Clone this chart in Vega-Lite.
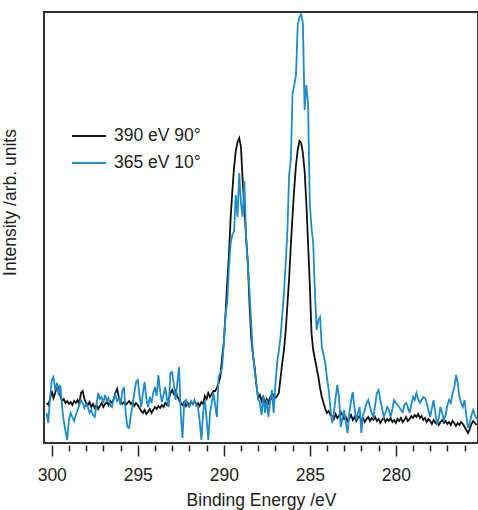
{
"$schema":"https://vega.github.io/schema/vega-lite/v6.json",
"width":434,"height":431,
"autosize":{"type":"none"},
"padding":{"left":44,"top":12,"right":0,"bottom":67},
"background":"white",
"config":{"view":{"stroke":"#333333","strokeWidth":2},"font":"Liberation Sans"},
"data":{"values":[
{"e":300.3,"k":40,"b":30},{"e":300.2,"k":38,"b":20},{"e":300.1,"k":44,"b":45},{"e":300.0,"k":52,"b":63},{"e":299.9,"k":45,"b":66},{"e":299.8,"k":50,"b":53},{"e":299.7,"k":58,"b":60},{"e":299.6,"k":55,"b":48},{"e":299.5,"k":47,"b":58},{"e":299.4,"k":42,"b":36},
{"e":299.3,"k":44,"b":22},{"e":299.2,"k":40,"b":12},{"e":299.1,"k":42,"b":3},{"e":299.0,"k":39,"b":23},{"e":298.9,"k":41,"b":30},{"e":298.8,"k":38,"b":26},{"e":298.7,"k":42,"b":22},{"e":298.6,"k":40,"b":28},{"e":298.5,"k":43,"b":33},{"e":298.4,"k":39,"b":38},
{"e":298.3,"k":50,"b":43},{"e":298.2,"k":52,"b":40},{"e":298.1,"k":44,"b":35},{"e":298.0,"k":40,"b":39},{"e":297.9,"k":38,"b":36},{"e":297.8,"k":41,"b":30},{"e":297.7,"k":36,"b":33},{"e":297.6,"k":39,"b":28},{"e":297.5,"k":35,"b":26},{"e":297.4,"k":38,"b":38},
{"e":297.3,"k":34,"b":50},{"e":297.2,"k":37,"b":44},{"e":297.1,"k":40,"b":46},{"e":297.0,"k":36,"b":40},{"e":296.9,"k":39,"b":48},{"e":296.8,"k":41,"b":42},{"e":296.7,"k":38,"b":45},{"e":296.6,"k":42,"b":38},{"e":296.5,"k":40,"b":36},{"e":296.4,"k":44,"b":44},
{"e":296.3,"k":50,"b":48},{"e":296.2,"k":54,"b":42},{"e":296.1,"k":46,"b":45},{"e":296.0,"k":42,"b":38},{"e":295.9,"k":39,"b":52},{"e":295.8,"k":41,"b":56},{"e":295.7,"k":38,"b":30},{"e":295.6,"k":40,"b":16},{"e":295.5,"k":42,"b":15},{"e":295.4,"k":39,"b":28},
{"e":295.3,"k":41,"b":38},{"e":295.2,"k":37,"b":50},{"e":295.1,"k":40,"b":61},{"e":295.0,"k":38,"b":63},{"e":294.9,"k":35,"b":48},{"e":294.8,"k":32,"b":36},{"e":294.7,"k":30,"b":50},{"e":294.6,"k":33,"b":61},{"e":294.5,"k":29,"b":44},{"e":294.4,"k":31,"b":36},
{"e":294.3,"k":34,"b":46},{"e":294.2,"k":30,"b":40},{"e":294.1,"k":33,"b":50},{"e":294.0,"k":36,"b":56},{"e":293.9,"k":34,"b":47},{"e":293.8,"k":37,"b":68},{"e":293.7,"k":35,"b":52},{"e":293.6,"k":38,"b":41},{"e":293.5,"k":36,"b":48},{"e":293.4,"k":40,"b":56},
{"e":293.3,"k":38,"b":44},{"e":293.2,"k":44,"b":36},{"e":293.1,"k":50,"b":70},{"e":293.0,"k":53,"b":71},{"e":292.9,"k":49,"b":58},{"e":292.8,"k":52,"b":43},{"e":292.7,"k":47,"b":60},{"e":292.6,"k":43,"b":76},{"e":292.5,"k":40,"b":30},{"e":292.4,"k":38,"b":5},
{"e":292.3,"k":41,"b":40},{"e":292.2,"k":37,"b":43},{"e":292.1,"k":40,"b":38},{"e":292.0,"k":38,"b":36},{"e":291.9,"k":41,"b":42},{"e":291.8,"k":39,"b":39},{"e":291.7,"k":42,"b":43},{"e":291.6,"k":38,"b":38},{"e":291.5,"k":40,"b":36},{"e":291.4,"k":37,"b":22},
{"e":291.3,"k":41,"b":3},{"e":291.2,"k":39,"b":30},{"e":291.1,"k":47,"b":43},{"e":291.0,"k":44,"b":25},{"e":290.9,"k":50,"b":3},{"e":290.8,"k":46,"b":30},{"e":290.7,"k":49,"b":40},{"e":290.6,"k":52,"b":50},{"e":290.5,"k":52,"b":38},{"e":290.4,"k":55,"b":26},
{"e":290.3,"k":60,"b":66},{"e":290.2,"k":66,"b":70},{"e":290.1,"k":85,"b":75},{"e":290.0,"k":100,"b":98},{"e":289.9,"k":128,"b":128},{"e":289.8,"k":160,"b":140},{"e":289.7,"k":188,"b":175},{"e":289.6,"k":225,"b":200},{"e":289.5,"k":252,"b":208},{"e":289.4,"k":276,"b":212},
{"e":289.3,"k":292,"b":248},{"e":289.2,"k":301,"b":226},{"e":289.1,"k":305,"b":270},{"e":289.0,"k":296,"b":240},{"e":288.9,"k":262,"b":226},{"e":288.8,"k":235,"b":262},{"e":288.7,"k":205,"b":205},{"e":288.6,"k":180,"b":178},{"e":288.5,"k":138,"b":150},{"e":288.4,"k":105,"b":118},
{"e":288.3,"k":88,"b":88},{"e":288.2,"k":75,"b":72},{"e":288.1,"k":58,"b":58},{"e":288.0,"k":45,"b":44},{"e":287.9,"k":48,"b":40},{"e":287.8,"k":42,"b":28},{"e":287.7,"k":46,"b":48},{"e":287.6,"k":40,"b":30},{"e":287.5,"k":44,"b":43},{"e":287.4,"k":40,"b":26},
{"e":287.3,"k":46,"b":42},{"e":287.2,"k":44,"b":53},{"e":287.1,"k":48,"b":30},{"e":287.0,"k":45,"b":58},{"e":286.9,"k":47,"b":80},{"e":286.8,"k":50,"b":92},{"e":286.7,"k":65,"b":106},{"e":286.6,"k":80,"b":128},{"e":286.5,"k":93,"b":150},{"e":286.4,"k":112,"b":180},
{"e":286.3,"k":138,"b":212},{"e":286.2,"k":165,"b":268},{"e":286.1,"k":198,"b":283},{"e":286.0,"k":228,"b":350},{"e":285.9,"k":255,"b":358},{"e":285.8,"k":278,"b":368},{"e":285.7,"k":293,"b":418},{"e":285.6,"k":302,"b":426},{"e":285.5,"k":300,"b":429},{"e":285.4,"k":290,"b":420},
{"e":285.3,"k":272,"b":333},{"e":285.2,"k":240,"b":358},{"e":285.1,"k":200,"b":340},{"e":285.0,"k":160,"b":240},{"e":284.9,"k":110,"b":215},{"e":284.8,"k":93,"b":200},{"e":284.7,"k":84,"b":150},{"e":284.6,"k":75,"b":113},{"e":284.5,"k":66,"b":123},{"e":284.4,"k":55,"b":126},
{"e":284.3,"k":46,"b":96},{"e":284.2,"k":40,"b":88},{"e":284.1,"k":34,"b":80},{"e":284.0,"k":30,"b":65},{"e":283.9,"k":32,"b":53},{"e":283.8,"k":28,"b":35},{"e":283.7,"k":27,"b":20},{"e":283.6,"k":24,"b":30},{"e":283.5,"k":29,"b":45},{"e":283.4,"k":25,"b":58},
{"e":283.3,"k":27,"b":46},{"e":283.2,"k":31,"b":16},{"e":283.1,"k":28,"b":25},{"e":283.0,"k":24,"b":33},{"e":282.9,"k":26,"b":20},{"e":282.8,"k":22,"b":10},{"e":282.7,"k":25,"b":30},{"e":282.6,"k":28,"b":42},{"e":282.5,"k":23,"b":51},{"e":282.4,"k":26,"b":35},
{"e":282.3,"k":22,"b":23},{"e":282.2,"k":25,"b":30},{"e":282.1,"k":27,"b":36},{"e":282.0,"k":23,"b":10},{"e":281.9,"k":25,"b":28},{"e":281.8,"k":21,"b":33},{"e":281.7,"k":24,"b":40},{"e":281.6,"k":26,"b":43},{"e":281.5,"k":22,"b":36},{"e":281.4,"k":25,"b":30},
{"e":281.3,"k":23,"b":26},{"e":281.2,"k":26,"b":38},{"e":281.1,"k":22,"b":50},{"e":281.0,"k":24,"b":53},{"e":280.9,"k":20,"b":43},{"e":280.8,"k":23,"b":35},{"e":280.7,"k":25,"b":26},{"e":280.6,"k":21,"b":30},{"e":280.5,"k":24,"b":36},{"e":280.4,"k":22,"b":33},
{"e":280.3,"k":25,"b":26},{"e":280.2,"k":21,"b":34},{"e":280.1,"k":23,"b":43},{"e":280.0,"k":20,"b":40},{"e":279.9,"k":24,"b":38},{"e":279.8,"k":22,"b":36},{"e":279.7,"k":25,"b":33},{"e":279.6,"k":21,"b":31},{"e":279.5,"k":23,"b":38},{"e":279.4,"k":26,"b":40},
{"e":279.3,"k":22,"b":36},{"e":279.2,"k":24,"b":30},{"e":279.1,"k":27,"b":38},{"e":279.0,"k":25,"b":46},{"e":278.9,"k":28,"b":43},{"e":278.8,"k":26,"b":50},{"e":278.7,"k":29,"b":44},{"e":278.6,"k":25,"b":40},{"e":278.5,"k":27,"b":43},{"e":278.4,"k":23,"b":46},
{"e":278.3,"k":25,"b":45},{"e":278.2,"k":21,"b":40},{"e":278.1,"k":24,"b":33},{"e":278.0,"k":22,"b":26},{"e":277.9,"k":19,"b":35},{"e":277.8,"k":23,"b":43},{"e":277.7,"k":20,"b":30},{"e":277.6,"k":22,"b":18},{"e":277.5,"k":18,"b":25},{"e":277.4,"k":21,"b":36},
{"e":277.3,"k":23,"b":30},{"e":277.2,"k":20,"b":23},{"e":277.1,"k":22,"b":28},{"e":277.0,"k":19,"b":38},{"e":276.9,"k":21,"b":43},{"e":276.8,"k":18,"b":40},{"e":276.7,"k":22,"b":50},{"e":276.6,"k":20,"b":55},{"e":276.5,"k":17,"b":68},{"e":276.4,"k":20,"b":60},
{"e":276.3,"k":18,"b":46},{"e":276.2,"k":21,"b":40},{"e":276.1,"k":19,"b":36},{"e":276.0,"k":16,"b":43},{"e":275.9,"k":13,"b":28},{"e":275.8,"k":10,"b":15},{"e":275.7,"k":14,"b":20},{"e":275.6,"k":19,"b":28},{"e":275.5,"k":22,"b":33},{"e":275.4,"k":20,"b":28},
{"e":275.3,"k":18,"b":24}
]},
"transform":[{"fold":["k","b"],"as":["s","v"]}],
"mark":{"type":"line","strokeWidth":1.8,"clip":true},
"encoding":{
"x":{"field":"e","type":"quantitative",
 "scale":{"domain":[275.22,300.45],"reverse":true,"nice":false,"zero":false},
 "axis":{"values":[276,277,278,279,280,281,282,283,284,285,286,287,288,289,290,291,292,293,294,295,296,297,298,299,300],
  "format":"d","labelExpr":"datum.value % 5 === 0 ? datum.label : ''",
  "tickSize":{"condition":{"test":"datum.value % 5 === 0","value":11},"value":6},
  "offset":2,"domain":false,"grid":false,"tickColor":"#222222","tickWidth":1.5,
  "labelFontSize":17.5,"labelColor":"#222222","labelPadding":10,"labelFlush":false,"labelOverlap":false,"labelBaseline":"top",
  "title":"Binding Energy /eV","titleFontSize":17.5,"titleFontWeight":"normal","titleColor":"#222222",
  "titleBaseline":"alphabetic","titleY":60}},
"y":{"field":"v","type":"quantitative",
 "scale":{"domain":[0,431],"nice":false,"zero":false},
 "axis":{"labels":false,"ticks":false,"domain":false,"grid":false,
  "title":"Intensity /arb. units","titleFontSize":17.5,"titleFontWeight":"normal","titleColor":"#222222",
  "titleAngle":270,"titleBaseline":"alphabetic","titleAlign":"center","titleX":-28.5,"titleY":190}},
"color":{"field":"s","type":"nominal",
 "scale":{"domain":["k","b"],"range":["#111111","#1e8bcd"]},
 "legend":{"orient":"none","legendX":27,"legendY":106,"title":null,"padding":0,
  "symbolType":"stroke","symbolSize":1156,"symbolStrokeWidth":2,"labelOffset":7,
  "labelFontSize":17.5,"labelColor":"#222222","rowPadding":0,
  "labelExpr":"datum.value == 'k' ? '390 eV 90°' : '365 eV 10°'"}}
}
}
